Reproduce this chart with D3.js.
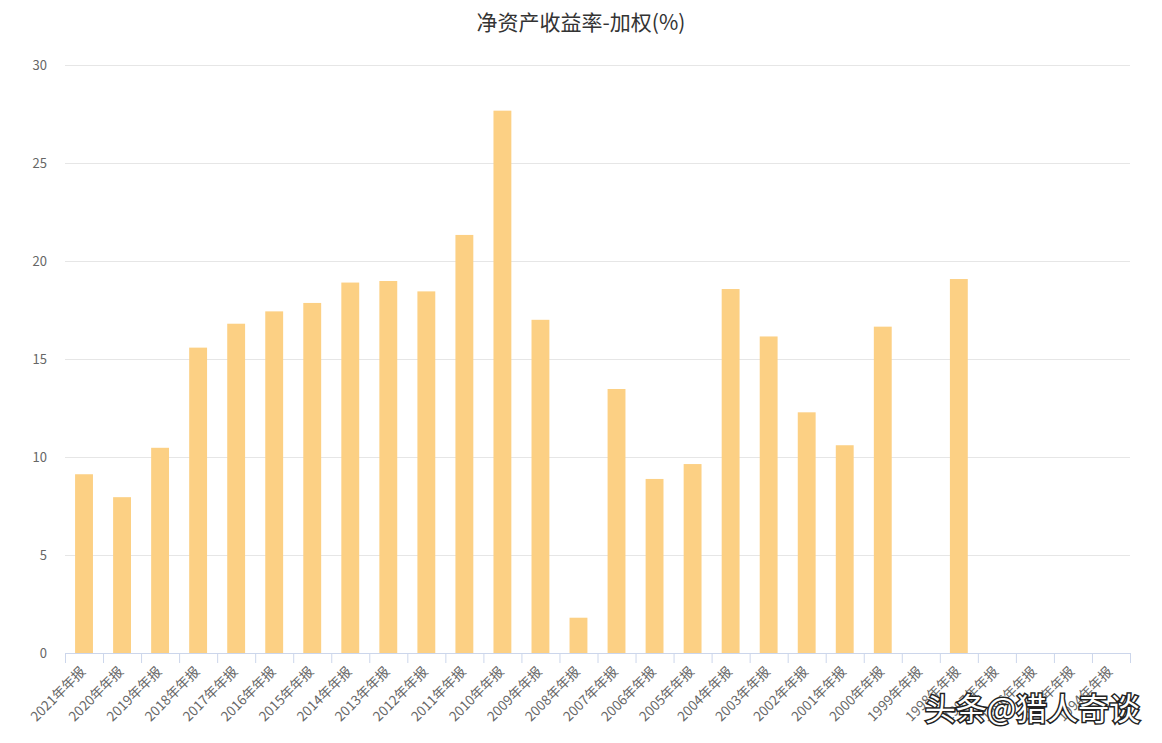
<!DOCTYPE html>
<html>
<head>
<meta charset="utf-8">
<script src="https://cdn.jsdelivr.net/npm/d3@7"></script>
<style>
  body { margin: 0; background: #fff; }
  text { font-family: "Noto Sans CJK SC", "Noto Sans", sans-serif; }
</style>
</head>
<body>
<div id="chart"></div>
<script>
// data
var years = ["2021","2020","2019","2018","2017","2016","2015","2014","2013","2012",
             "2011","2010","2009","2008","2007","2006","2005","2004","2003","2002",
             "2001","2000","1999","1998","1997","1996","1995","1994"]
var categories = years.map(function(y){ return y + "年年报" })
var roe = [9.12, 7.95, 10.47, 15.58, 16.8, 17.43, 17.86, 18.9, 18.98, 18.45,
           21.33, 27.67, 17.0, 1.8, 13.47, 8.88, 9.64, 18.57, 16.15, 12.28,
           10.6, 16.65, null, 19.08, null, null, null, null]
var yTicks = [0, 5, 10, 15, 20, 25, 30]
var title = "净资产收益率-加权(%)"
var watermark = "头条@猎人奇谈"

var width = 1162, height = 743
var margin = {top: 65, right: 32, bottom: 90, left: 65}

var svg = d3.select("#chart")
    .append("svg")
    .attr("width", width)
    .attr("height", height)

var X = d3.scaleBand()
    .domain(categories)
    .range([margin.left, width - margin.right])
    .paddingInner(0.53)
    .paddingOuter(0.265)

var Y = d3.scaleLinear()
    .domain([0, 30])
    .range([height - margin.bottom, margin.top])

// grid
svg.append("g")
    .selectAll("line")
    .data(yTicks.filter(function(d){ return d > 0 }))
    .join("line")
    .attr("x1", margin.left)
    .attr("x2", width - margin.right)
    .attr("y1", function(d){ return Y(d) + 0.5 })
    .attr("y2", function(d){ return Y(d) + 0.5 })
    .attr("stroke", "#e6e6e6")

// y labels
svg.append("g")
    .selectAll("text")
    .data(yTicks)
    .join("text")
    .attr("x", 47)
    .attr("y", function(d){ return Y(d) })
    .attr("dy", "0.35em")
    .attr("text-anchor", "end")
    .attr("fill", "#666")
    .style("font-size", "13px")
    .text(function(d){ return d })

// bars
svg.append("g")
    .selectAll("rect")
    .data(categories.map(function(c, i){ return {cat: c, v: roe[i]} })
          .filter(function(d){ return d.v != null }))
    .join("rect")
    .attr("x", function(d){ return X(d.cat) })
    .attr("width", X.bandwidth())
    .attr("y", function(d){ return Y(d.v) })
    .attr("height", function(d){ return Y(0) - Y(d.v) })
    .attr("fill", "#fcd084")

// x axis
var xAxis = svg.append("g")
    .attr("transform", "translate(0," + Y(0) + ")")
xAxis.append("line")
    .attr("x1", margin.left)
    .attr("x2", width - margin.right)
    .attr("y1", 0.5).attr("y2", 0.5)
    .attr("stroke", "#ccd6eb")

var step = X.step()
var boundaries = d3.range(categories.length + 1).map(function(i){
    return margin.left + i * step
})
xAxis.selectAll(".tick")
    .data(boundaries)
    .join("line")
    .attr("class", "tick")
    .attr("x1", function(d){ return d + 0.5 })
    .attr("x2", function(d){ return d + 0.5 })
    .attr("y1", 0).attr("y2", 10)
    .attr("stroke", "#ccd6eb")

xAxis.selectAll(".lbl")
    .data(categories)
    .join("text")
    .attr("class", "lbl")
    .attr("transform", function(d){
        return "translate(" + (X(d) + X.bandwidth() / 2 - 1) + ",16) rotate(-45)"
    })
    .attr("text-anchor", "end")
    .attr("dy", "0.35em")
    .attr("fill", "#666")
    .style("font-size", "13.5px")
    .text(function(d){ return d })

// title
svg.append("text")
    .attr("x", width / 2)
    .attr("y", 30)
    .attr("text-anchor", "middle")
    .attr("fill", "#333")
    .style("font-size", "21px")
    .text(title)

// watermark
svg.append("text")
    .attr("x", 1140)
    .attr("y", 720)
    .attr("text-anchor", "end")
    .attr("fill", "#fff")
    .attr("stroke", "#222")
    .attr("stroke-width", 3)
    .attr("paint-order", "stroke")
    .style("font-size", "31px")
    .text(watermark)
</script>
</body>
</html>
